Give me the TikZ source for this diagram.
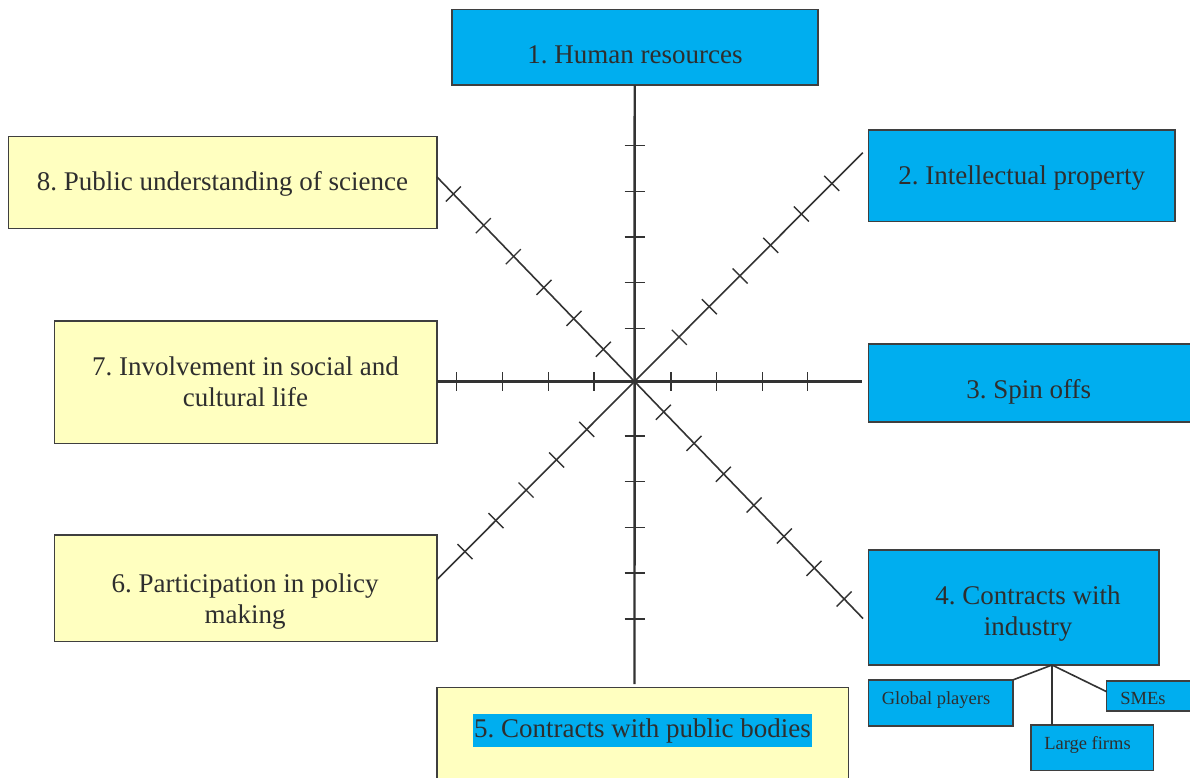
\documentclass[tikz,border=0pt]{standalone}
\usepackage{fontspec}
\setmainfont{Liberation Serif}
\usetikzlibrary{calc}
\definecolor{boxblue}{HTML}{00AEEF}
\definecolor{boxyellow}{HTML}{FFFFC0}
\definecolor{edgegray}{HTML}{3F3F3F}
\definecolor{inkgray}{HTML}{2E2E2E}
\definecolor{axisgray}{HTML}{333333}

\begin{document}
\frenchspacing
\begin{tikzpicture}[x=1pt,y=-1pt,
  box/.style={draw=edgegray, line width=1.6pt, inner sep=0pt, outer sep=0pt},
  bluebox/.style={box, fill=boxblue},
  yellowbox/.style={box, fill=boxyellow},
  captiontext/.style={text=inkgray, font=\fontsize{27}{31}\selectfont, inner sep=0pt, align=center},
  smalltext/.style={text=inkgray, font=\fontsize{18.5}{22}\selectfont, inner sep=0pt},
  axisline/.style={draw=axisgray, line width=2.4pt},
  diagline/.style={draw=axisgray, line width=1.6pt},
  tickmark/.style={draw=axisgray, line width=1.4pt},
  branchline/.style={draw=axisgray, line width=1.6pt}]

\useasboundingbox (0,0) rectangle (1190,778);
\clip (0,0) rectangle (1190,778);
\fill[white] (0,0) rectangle (1190,778);

% ---- boxes around the axes ----
\node[bluebox,   minimum width=366pt,   minimum height=75.7pt] (b1) at (634.7,47.2) {};
\node[bluebox,   minimum width=306.7pt, minimum height=91.7pt] (b2) at (1021.7,175.8) {};
\node[bluebox,   minimum width=327.7pt, minimum height=77.7pt] (b3) at (1032.2,382.9) {};
\node[bluebox,   minimum width=290.7pt, minimum height=115pt]  (b4) at (1013.7,607.5) {};
\node[yellowbox, minimum width=411.6pt, minimum height=102.7pt] (b5) at (642.5,738.7) {};
\node[yellowbox, minimum width=382.4pt, minimum height=106.7pt] (b6) at (245.5,588.3) {};
\node[yellowbox, minimum width=382.4pt, minimum height=122.3pt] (b7) at (245.5,382.2) {};
\node[yellowbox, minimum width=428.4pt, minimum height=91.6pt]  (b8) at (222.5,182.5) {};

% ---- kinds of industry partner ----
\node[bluebox, minimum width=144.4pt, minimum height=46pt]   (gp)  at (940.5,703) {};
\node[bluebox, minimum width=89.3pt,  minimum height=30pt]   (sme) at (1151.3,695.7) {};
\node[bluebox, minimum width=122.6pt, minimum height=45.7pt] (lf)  at (1092,747.8) {};

% ---- texts ----
\node[captiontext, anchor=base] (t1) at (635,63.3) {1. Human resources};
\node[captiontext, anchor=base] (t2) at (1021.7,184) {2. Intellectual property};
\node[captiontext, anchor=base] (t3) at (1028.7,398.3) {3. Spin offs};
\node[captiontext] (t4) at (1028,614) {4. Contracts with\\industry};
\node[captiontext, fill=boxblue, minimum width=339pt, minimum height=33pt] (t5) at (642.5,730.5) {5. Contracts with public bodies};
\node[captiontext] (t6) at (245,602) {6. Participation in policy\\making};
\node[captiontext] (t7) at (245.5,382) {7. Involvement in social and\\cultural life};
\node[captiontext, anchor=base] (t8) at (222.5,190) {8. Public understanding of science};
\node[smalltext, anchor=base] (gpt) at (936,704) {Global players};
\node[smalltext, anchor=base] (smt) at (1143,704) {SMEs};
\node[smalltext, anchor=base] (lft) at (1087.5,749.3) {Large firms};

% ---- axis end points ----
\coordinate (c)    at (634.5,381.5);
\coordinate (vend) at (634.5,684);
\coordinate (hend) at (862,381.5);
\coordinate (ne)   at (862.7,152.7);
\coordinate (nw)   at (436.7,176.7);
\coordinate (sw)   at (436.5,580);
\coordinate (se)   at (863,618.5);
\coordinate (br)   at (1052,665);

% ---- axes ----
\draw[axisline] (b1.south) -- (vend);
\draw[axisline] (b7.east |- c) -- (hend);
\draw[diagline] (c) -- (ne);
\draw[diagline] (nw) -- (c);
\draw[diagline] (c) -- (sw);
\draw[diagline] (c) -- (se);

% ---- scale marks ----
\foreach \y in {145.5,191.2,236.9,282.6,328.3,436,481.7,527.4,573.1,618.8}
  \draw[tickmark] (624.5,\y) -- (644.5,\y);
\foreach \x in {456.7,502.7,548.3,594,671,716.7,762.3,807.7}
  \draw[tickmark] (\x,372) -- (\x,391);
\foreach \x/\y in {679.3/337.3,709.3/306.7,740/276,770.7/245.3,801.3/214,831.7/183.3,
                   586.7/429.3,556.7/460,526/490,496/520.7,465/551.7}
  \draw[tickmark] (\x-7.5,\y-7.5) -- (\x+7.5,\y+7.5);
\foreach \x/\y in {453.3/194,483.3/225.7,513.3/256.7,544/287.3,574/318.3,603.3/349.3,
                   663.3/412.3,694/443.3,723.3/474.3,754/505,784.3/536,814/568.3,844/599}
  \draw[tickmark] (\x-7.5,\y+7.5) -- (\x+7.5,\y-7.5);

% ---- branches of industry contracts ----
\draw[branchline] (br) -- (gp.north east);
\draw[branchline] (br) -- (br |- lf.north);
\draw[branchline] (br) -- ([yshift=4pt]sme.west);
\end{tikzpicture}
\end{document}
